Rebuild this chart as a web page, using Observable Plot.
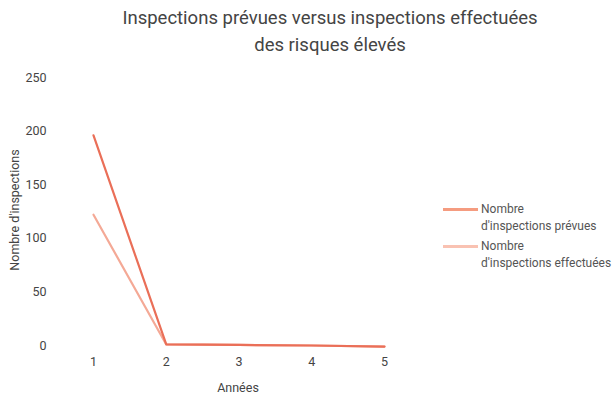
<!DOCTYPE html>
<html><head><meta charset="utf-8">
<script src="https://cdn.jsdelivr.net/npm/d3@7"></script>
<script src="https://cdn.jsdelivr.net/npm/@observablehq/plot@0.6"></script>
<style>
body{margin:0;background:#fff;font-family:"Roboto",sans-serif;}
#wrap{position:relative;width:616px;height:402px;}
#title{position:absolute;left:0;top:5px;width:660px;text-align:center;font-size:18.5px;color:#444;line-height:27px;}
#legend{position:absolute;left:443px;top:201px;font-size:12px;color:#555;white-space:nowrap;}
.item{display:flex;align-items:flex-start;margin-bottom:3px;}
.sw{width:35px;height:3px;margin-top:7px;margin-right:3px;}
.lab{line-height:17px;}
#ylab{position:absolute;left:14px;top:210px;transform:translate(-50%,-50%) rotate(-90deg);font-size:12.5px;color:#444;white-space:nowrap;}
#xlab{position:absolute;left:238px;top:380px;transform:translateX(-50%);font-size:12.5px;color:#444;}
</style></head>
<body><div id="wrap"><div id="chart"></div>
<div id="title">Inspections prévues versus inspections effectuées<br>des risques élevés</div>
<div id="ylab">Nombre d'inspections</div>
<div id="xlab">Années</div>
<div id="legend"></div></div>
<script>
const years = [1, 2, 3, 4, 5];
const prevues = [196, 1, 0.5, 0, -1];
const effectuees = [122, 1, 0.5, 0, -1];
const seriesNames = ["Nombre\nd'inspections prévues", "Nombre\nd'inspections effectuées"];
const lineColors = ["#ea6f58", "#f4a996"];
const legendColors = ["#f59c80", "#f9c2b2"];
const yTicks = [0, 50, 100, 150, 200, 250];

const data = [];
years.forEach((y, i) => {
  data.push({year: y, value: effectuees[i], s: seriesNames[1]});
});
years.forEach((y, i) => {
  data.push({year: y, value: prevues[i], s: seriesNames[0]});
});

const chart = Plot.plot({
  width: 616, height: 402,
  marginLeft: 93, marginRight: 232, marginTop: 77, marginBottom: 57,
  style: {fontFamily: 'Roboto, sans-serif', fontSize: "12.5px", color: "#444", background: "#fff"},
  x: {domain: [1, 5], label: null},
  y: {domain: [0, 250], label: null},
  color: {domain: seriesNames, range: lineColors},
  marks: [
    Plot.axisY({ticks: yTicks, tickSize: 0, tickPadding: 47, label: null}),
    Plot.axisX({ticks: years, tickFormat: d => String(d), tickSize: 0, tickPadding: 12, label: null}),
    Plot.line(data, {x: "year", y: "value", z: "s", stroke: "s", strokeWidth: 2.2})
  ]
});
document.getElementById("chart").appendChild(chart);

const lg = document.getElementById("legend");
seriesNames.forEach((n, i) => {
  const it = document.createElement("div"); it.className = "item";
  const sw = document.createElement("div"); sw.className = "sw"; sw.style.background = legendColors[i];
  const lb = document.createElement("div"); lb.className = "lab"; lb.innerHTML = n.replace("\n", "<br>");
  it.appendChild(sw); it.appendChild(lb); lg.appendChild(it);
});
</script></body></html>
